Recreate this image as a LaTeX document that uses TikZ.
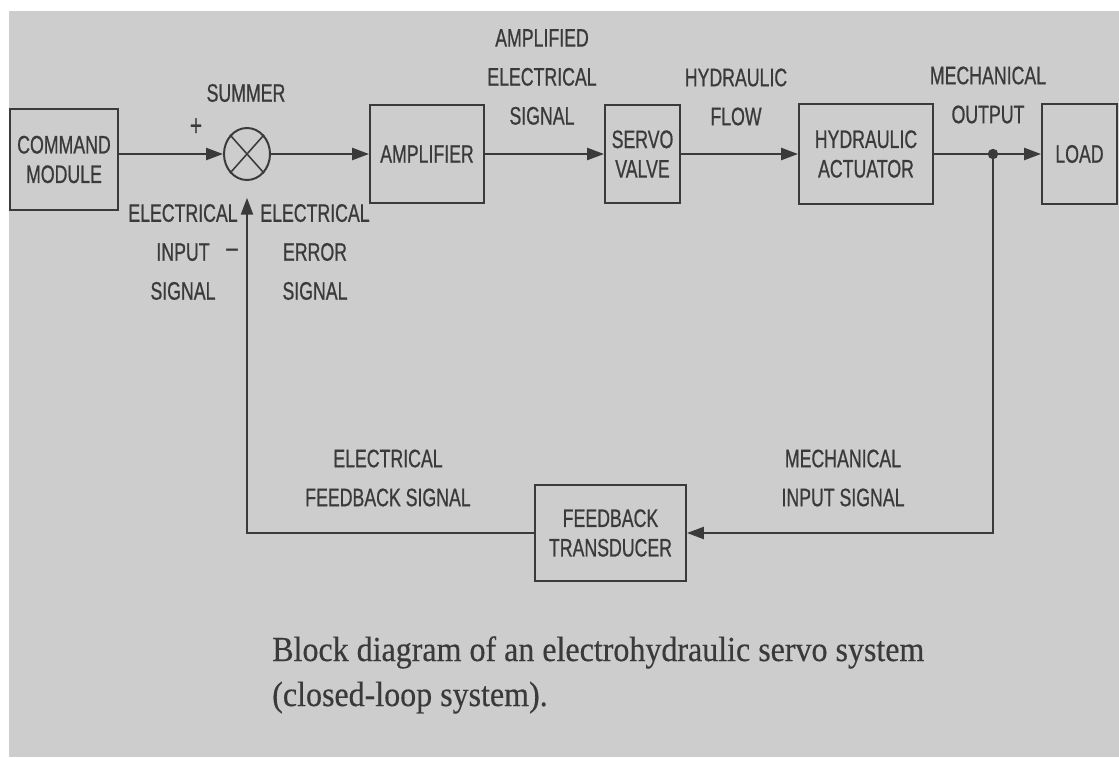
\documentclass[tikz,border=0pt]{standalone}
\usepackage{fontspec}
\setmainfont[FakeStretch=0.91, FakeBold=0.4]{Liberation Serif}
\setsansfont[FakeStretch=0.70, FakeBold=0.7]{Liberation Sans}
\usetikzlibrary{arrows.meta, shapes.geometric}
\definecolor{paper}{HTML}{CDCDCD}
\definecolor{ink}{HTML}{3A3A3A}

\begin{document}
\begin{tikzpicture}[
  x=0.025cm, y=-0.025cm,
  >={Triangle[length=4.2mm, width=3mm]},
  blk/.style={draw=ink, line width=1.4pt, align=center, inner sep=2pt, text=ink,
              font=\sffamily\fontsize{18}{21}\selectfont},
  lbl/.style={align=center, text=ink, inner sep=0pt,
              font=\sffamily\fontsize{18}{27.7}\selectfont},
  sig/.style={draw=ink, line width=1.4pt, ->},
  wire/.style={draw=ink, line width=1.4pt},
  capt/.style={anchor=base west, inner sep=0pt, text=ink,
               font=\rmfamily\fontsize{25}{32}\selectfont}
]

% ---- Page ----
\useasboundingbox (0,0) rectangle (1119,757);
\fill[paper] (9,11) rectangle (1119,757);

% ---- Forward path ----
\node[blk, minimum width=2.7cm, minimum height=2.525cm] (cmd) at (64,159.5) {COMMAND\\MODULE};
\node[draw=ink, line width=1.4pt, ellipse, minimum width=1.15cm, minimum height=1.3cm,
      inner sep=0pt] (sum) at (247,154) {};
\draw[wire, line width=1.1pt] (sum.north east) -- (sum.south west)
                              (sum.north west) -- (sum.south east);
\node[blk, minimum width=2.85cm, minimum height=2.45cm] (amp) at (427,154) {AMPLIFIER};
\node[blk, minimum width=1.875cm, minimum height=2.45cm] (valve) at (642.5,154) {SERVO\\VALVE};
\node[blk, minimum width=3.35cm, minimum height=2.5cm] (act) at (866,154) {HYDRAULIC\\ACTUATOR};
\node[blk, minimum width=1.875cm, minimum height=2.5cm] (load) at (1079.5,154) {LOAD};
\coordinate (jn) at (993,154);

\draw[sig] (cmd.east |- sum.west) -- (sum.west);
\draw[sig] (sum.east) -- (amp.west);
\draw[sig] (amp.east) -- (valve.west);
\draw[sig] (valve.east) -- (act.west);
\draw[wire] (act.east) -- (jn);
\draw[sig] (jn) -- (load.west);
\fill[ink] (jn) circle[radius=0.13cm];

% ---- Feedback path ----
\node[blk, minimum width=3.775cm, minimum height=2.4cm] (fbt) at (610.5,533) {FEEDBACK\\TRANSDUCER};
\draw[sig] (jn) |- (fbt.east);
\draw[sig, shorten >=0.42cm] (fbt.west) -| (sum.south);

% ---- Signal labels ----
\node[lbl] (tsum) at (246,93) {SUMMER};
\node[lbl, font=\sffamily\fontsize{21}{24}\selectfont] (tplus) at (196,127) {+};
\node[lbl, font=\sffamily\fontsize{21}{24}\selectfont] (tminus) at (232,253) {--};
\node[lbl] (tin) at (183,252) {ELECTRICAL\\INPUT\\SIGNAL};
\node[lbl] (terr) at (315,252) {ELECTRICAL\\ERROR\\SIGNAL};
\node[lbl] (tamp) at (542,77) {AMPLIFIED\\ELECTRICAL\\SIGNAL};
\node[lbl] (tflow) at (736,97) {HYDRAULIC\\FLOW};
\node[lbl] (tout) at (988,95) {MECHANICAL\\OUTPUT};
\node[lbl] (tfb) at (388,478) {ELECTRICAL\\FEEDBACK SIGNAL};
\node[lbl] (tmin) at (843,478) {MECHANICAL\\INPUT SIGNAL};

% ---- Caption ----
\node[capt] (cap1) at (272,661) {Block diagram of an electrohydraulic servo system};
\node[capt] (cap2) at (272,706) {(closed-loop system).};

\end{tikzpicture}
\end{document}
